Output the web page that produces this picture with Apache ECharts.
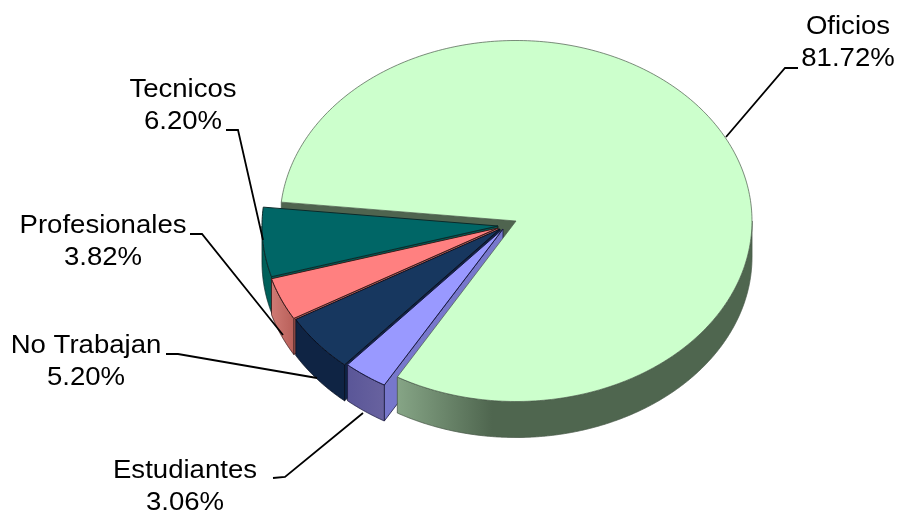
<!DOCTYPE html>
<html><head><meta charset="utf-8">
<style>html,body{margin:0;padding:0;background:#fff}#c{width:898px;height:513px}</style>
<script src="https://cdn.jsdelivr.net/npm/echarts@6/dist/echarts.min.js"></script>
</head><body><div id="c"></div>
<script>
const categories = ['Oficios','Estudiantes','No Trabajan','Profesionales','Tecnicos'];
const seriesValues = [81.72,3.06,5.20,3.82,6.20];
const valueLabels = ['81.72%','3.06%','5.20%','3.82%','6.20%'];

const topColors = ['#CCFFCC','#9999FF','#17375F','#FF8080','#006666'];
const wallFrom = ['#86A586','#5A5698','#0F2444','#CF7A74','#005F59'];
const wallTo = ['#4F664F','#68629F','#0F2444','#B9605A','#00605A'];
const cutColors = ['#4F644F','#7777CC','#0F2444','#B9605A','#005F59'];
const edgeColors = ['#4A5A4A','#1A1A40','#0A1020','#3A1A1A','#0A2A2A'];
const centers = [[516,221],[503,229],[500,229],[498,228],[498,226]];
const labelCenters = [[848,43],[185,487],[86,362],[103,242],[183,106]];
const leaders = [
  [[798,68],[785,68],[726,137]],
  [[273,478],[285,477],[363,413]],
  [[166,354],[178,354],[317,378]],
  [[190,234],[202,234],[283,335]],
  [[226,130],[238,130],[263,240]]
];
const RX = 236, RY = 180.5, DEPTH = 36, START_ANGLE = 186;

const total = seriesValues.reduce((a,b)=>a+b,0);
const starts = [];
seriesValues.reduce((acc,v,i)=>{starts[i]=acc;return acc+v/total*360;},START_ANGLE);

const pt = (c,deg,dy=0)=>{const r=deg*Math.PI/180;return [c[0]+RX*Math.cos(r),c[1]+RY*Math.sin(r)+dy];};

function renderItem(params, api){
  const i = params.dataIndex;
  const sweep = api.value(0)/total*360;
  const t0 = starts[i], c = centers[i];
  const top = [c];
  const steps = Math.max(6,Math.ceil(sweep));
  for(let k=0;k<=steps;k++) top.push(pt(c,t0+sweep*k/steps));
  const front = [];
  for(let k=0;k<=steps*4;k++){
    const t = t0+sweep*k/(steps*4), n = ((t%360)+360)%360;
    if(n<=180) front.push(t);
  }
  const isMain = i===0;
  const frontZ = isMain?30:10+(5-i)*3;
  const children = [];
  // radial cut wall
  children.push({type:'polygon',z2:isMain?1:frontZ,silent:true,
    shape:{points:[c,pt(c,t0),pt(c,t0,DEPTH),[c[0],c[1]+DEPTH]]},
    style:{fill:cutColors[i],stroke:edgeColors[i],lineWidth:0.8}});
  // outer wall
  if(front.length>1){
    const pts = front.map(t=>pt(c,t)).concat(front.slice().reverse().map(t=>pt(c,t,DEPTH)));
    const xs = pts.map(p=>p[0]);
    const x0 = Math.min(...xs), x1 = Math.max(...xs);
    const fill = isMain
      ? new echarts.graphic.LinearGradient(397,0,492,0,[{offset:0,color:wallFrom[i]},{offset:1,color:wallTo[i]}],true)
      : new echarts.graphic.LinearGradient(x0,0,x1,0,[{offset:0,color:wallFrom[i]},{offset:1,color:wallTo[i]}],true);
    children.push({type:'polygon',z2:frontZ+1,silent:true,shape:{points:pts},
      style:{fill,stroke:edgeColors[i],lineWidth:0.8}});
  }
  // top face
  children.push({type:'polygon',z2:frontZ+2,silent:true,shape:{points:top},
    style:{fill:topColors[i],stroke:edgeColors[i],lineWidth:isMain?0.7:1}});
  // leader
  children.push({type:'polyline',z2:40,silent:true,shape:{points:leaders[i]},
    style:{fill:null,stroke:'#000',lineWidth:1.8}});
  // label
  children.push({type:'text',z2:41,silent:true,x:labelCenters[i][0],y:labelCenters[i][1],scaleX:1.06,
    style:{text:categories[i]+'\n'+valueLabels[i],fill:'#000',align:'center',verticalAlign:'middle',
      fontFamily:'"Liberation Sans",Arial,sans-serif',fontSize:26,lineHeight:32}});
  return {type:'group',children};
}

const chart = echarts.init(document.getElementById('c'),null,{renderer:'canvas'});
chart.setOption({
  animation:false,
  backgroundColor:'#fff',
  series:[{type:'custom',coordinateSystem:'none',clip:false,renderItem,
    data:seriesValues.map((v,i)=>({name:categories[i],value:[v]}))}]
});
</script></body></html>
